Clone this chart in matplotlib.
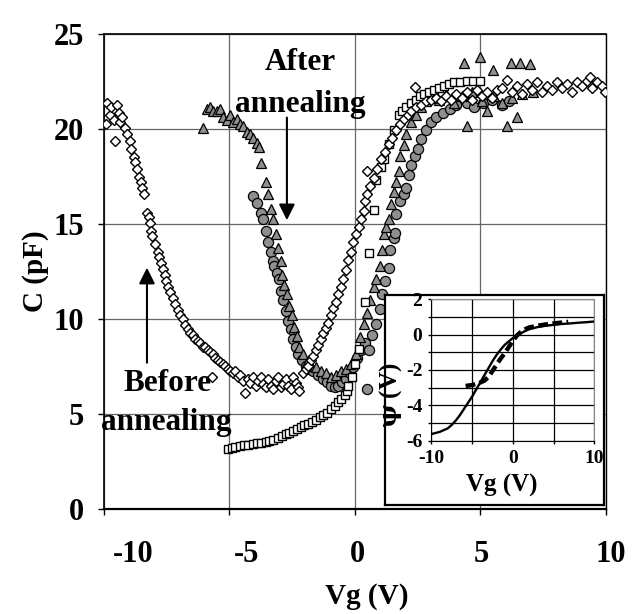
import matplotlib
matplotlib.use('Agg')
import matplotlib.pyplot as plt
from matplotlib.transforms import ScaledTranslation

plt.rcParams['font.family'] = ['Liberation Serif', 'DejaVu Serif']
plt.rcParams['font.weight'] = 'bold'
plt.rcParams['mathtext.fontset'] = 'dejavuserif'

# ---------------- data ----------------
x_ticks = [-10, -5, 0, 5, 10]
x_tick_labels = ['-10', '-5', '0', '5', '10']
y_ticks = [0, 5, 10, 15, 20, 25]
y_tick_labels = ['0', '5', '10', '15', '20', '25']

# open diamonds: before annealing
before_pts = [
    (-9.9, 20.25), (-9.85, 21.35), (-9.75, 20.75), (-9.7, 21.15), (-9.6, 20.45), (-9.55, 19.35),
    (-9.45, 21.25), (-9.4, 20.85), (-9.35, 20.35), (-9.25, 20.65), (-9.15, 20.05), (-9.05, 19.75),
    (-8.95, 19.35), (-8.9, 18.95), (-8.8, 18.55), (-8.75, 18.25), (-8.65, 17.9), (-8.6, 17.5),
    (-8.5, 17.2), (-8.45, 16.9), (-8.4, 16.6),
    (-8.25, 15.6), (-8.2, 15.35), (-8.15, 15.05), (-8.1, 14.65), (-8.05, 14.35), (-7.95, 13.95),
    (-7.85, 13.55), (-7.8, 13.25), (-7.7, 12.95), (-7.65, 12.65), (-7.55, 12.3), (-7.5, 12.0),
    (-7.45, 11.7), (-7.35, 11.4), (-7.25, 11.1), (-7.15, 10.8), (-7.05, 10.5), (-6.95, 10.2),
    (-6.85, 10.0), (-6.75, 9.7), (-6.65, 9.5), (-6.55, 9.25), (-6.45, 9.15), (-6.35, 8.95),
    (-6.25, 8.85), (-6.15, 8.75), (-6.05, 8.55), (-5.95, 8.55), (-5.85, 8.35), (-5.75, 8.25),
    (-5.65, 8.15), (-5.55, 7.95), (-5.45, 7.85), (-5.35, 7.75), (-5.25, 7.65), (-5.15, 7.55),
    (-5.05, 7.35), (-4.95, 7.25), (-4.85, 7.15), (-4.75, 7.25), (-4.65, 6.95), (-4.55, 7.05),
    (-4.45, 6.75), (-4.35, 6.1), (-4.25, 6.85), (-4.15, 6.65), (-4.05, 6.95), (-3.95, 6.5),
    (-3.85, 6.75), (-3.75, 6.95), (-3.65, 6.6), (-3.55, 6.4), (-3.45, 6.85), (-3.35, 6.5),
    (-3.25, 6.3), (-3.15, 6.75), (-3.05, 6.95), (-2.95, 6.4), (-2.85, 6.6), (-2.75, 6.85),
    (-2.65, 6.5), (-2.55, 6.3), (-2.45, 6.95), (-2.35, 6.65), (-2.25, 6.4), (-2.2, 6.2),
    (-5.7, 6.95),
    (-2.05, 7.15), (-1.95, 7.35), (-1.85, 7.55), (-1.75, 7.85), (-1.65, 8.05), (-1.55, 8.35),
    (-1.45, 8.65), (-1.35, 8.95), (-1.25, 9.25), (-1.15, 9.55), (-1.05, 9.8), (-0.95, 10.2),
    (-0.85, 10.6), (-0.75, 10.9), (-0.65, 11.3), (-0.55, 11.7), (-0.45, 12.1), (-0.35, 12.6),
    (-0.25, 13.1), (-0.15, 13.55), (-0.05, 14.05), (0.05, 14.45), (0.15, 14.85), (0.25, 15.25),
    (0.35, 15.7), (0.4, 16.2), (0.5, 16.6), (0.48, 17.8), (0.6, 17.0), (0.75, 17.4), (0.9, 17.9),
    (1.05, 18.4), (1.2, 18.8), (1.35, 19.2), (1.5, 19.55), (1.65, 19.95), (1.8, 20.25),
    (1.95, 20.55), (2.1, 20.75), (2.25, 20.95), (2.4, 22.2), (2.45, 21.15),
    (2.65, 21.25), (2.85, 21.45), (3.05, 21.55), (3.25, 21.65), (3.45, 21.45), (3.65, 21.75),
    (3.85, 21.55), (4.05, 21.85), (4.25, 21.65), (4.45, 21.95), (4.65, 21.55), (4.85, 22.05),
    (5.05, 21.75), (5.25, 21.95), (5.45, 21.65), (5.65, 22.05), (5.85, 22.15), (6.05, 22.6),
    (6.25, 21.95), (6.45, 22.25), (6.65, 21.85), (6.85, 22.35), (7.05, 22.05), (7.25, 22.45),
    (7.45, 21.95), (7.65, 22.25), (7.85, 22.05), (8.05, 22.45), (8.25, 22.15), (8.45, 22.35),
    (8.65, 21.95), (8.85, 22.45), (9.05, 22.25), (9.25, 22.55), (9.35, 22.75), (9.45, 22.15),
    (9.65, 22.45), (9.85, 22.25), (9.98, 21.95),
]

# grey triangles: after annealing
after_tri_pts = [
    (-6.05, 20.05), (-5.9, 21.05), (-5.75, 21.15), (-5.65, 20.95), (-5.5, 20.95), (-5.35, 21.05),
    (-5.25, 20.65), (-5.1, 20.45), (-4.95, 20.75), (-4.85, 20.35), (-4.7, 20.55), (-4.55, 20.25),
    (-4.45, 20.15), (-4.3, 19.85), (-4.15, 19.75), (-4.05, 19.55), (-3.9, 19.25), (-3.8, 19.05),
    (-3.75, 18.2), (-3.55, 17.2), (-3.45, 16.6), (-3.35, 15.8), (-3.25, 15.25), (-3.15, 14.45),
    (-3.05, 13.75), (-2.95, 13.05), (-2.9, 12.3), (-2.8, 11.8), (-2.7, 11.3), (-2.6, 10.7),
    (-2.5, 10.2), (-2.4, 9.6), (-2.3, 9.1), (-2.2, 8.55), (-2.05, 8.15), (-1.9, 7.75),
    (-1.75, 7.55), (-1.55, 7.45), (-1.35, 7.25), (-1.15, 7.15), (-0.95, 6.95), (-0.75, 7.05),
    (-0.55, 7.25), (-0.35, 7.35), (-0.15, 7.65), (0.05, 8.15), (0.2, 9.05), (0.35, 9.75),
    (0.5, 10.3), (0.6, 11.0), (0.75, 11.7), (0.85, 12.1), (1.0, 12.8), (1.1, 13.65),
    (1.15, 14.45), (1.25, 14.85), (1.35, 15.25), (1.45, 16.05), (1.55, 16.7), (1.65, 17.2),
    (1.75, 17.8), (1.8, 18.6), (1.95, 19.15), (2.05, 19.75), (2.25, 20.35), (2.45, 20.75),
    (2.65, 21.15), (2.85, 21.45), (3.05, 21.65), (3.35, 21.55), (3.65, 21.85), (3.95, 21.35),
    (4.25, 21.75), (4.33, 23.5), (4.46, 20.15), (4.65, 21.95), (5.0, 23.8), (5.05, 21.45),
    (5.25, 20.95), (5.52, 23.1), (5.55, 21.75), (5.85, 21.35), (6.05, 20.15), (6.2, 23.5),
    (6.25, 21.65), (6.45, 20.65), (6.58, 23.5), (6.65, 21.85), (6.98, 23.4), (7.1, 21.95),
]

# grey circles: after annealing
after_circ_pts = [
    (-4.05, 16.5), (-3.9, 16.1), (-3.75, 15.6), (-3.65, 15.25), (-3.55, 14.65), (-3.45, 14.05),
    (-3.35, 13.55), (-3.25, 13.05), (-3.2, 12.8), (-3.1, 12.4), (-3.0, 12.1), (-2.95, 11.5),
    (-2.85, 11.0), (-2.75, 10.4), (-2.65, 9.9), (-2.55, 9.45), (-2.45, 8.95), (-2.35, 8.55),
    (-2.25, 8.15), (-2.1, 7.85), (-1.95, 7.55), (-1.8, 7.35), (-1.65, 7.25), (-1.45, 7.05),
    (-1.25, 6.85), (-1.1, 6.7), (-0.95, 6.5), (-0.8, 6.4), (-0.65, 6.5), (-0.5, 6.7),
    (-0.35, 6.85), (-0.2, 7.15), (-0.05, 7.45), (0.1, 7.95), (0.25, 8.35), (0.4, 8.75),
    (0.48, 6.3), (0.55, 8.35), (0.7, 9.15), (0.85, 9.75), (1.0, 10.55), (1.1, 11.3),
    (1.2, 12.0), (1.35, 12.7), (1.4, 13.65), (1.55, 14.25), (1.6, 14.55), (1.65, 15.55),
    (1.8, 16.2), (1.95, 16.6), (2.05, 16.9), (2.15, 17.6), (2.25, 18.1), (2.4, 18.6),
    (2.5, 18.95), (2.65, 19.45), (2.85, 19.95), (3.05, 20.35), (3.25, 20.65), (3.5, 20.85),
    (3.8, 21.05), (4.05, 21.25), (4.45, 21.35), (4.75, 21.15), (5.1, 21.35), (5.45, 21.55),
    (5.85, 21.25), (6.15, 21.45),
]

# open squares
square_pts = [
    (-5.05, 3.15), (-4.9, 3.2), (-4.75, 3.25), (-4.55, 3.3), (-4.4, 3.35), (-4.25, 3.35),
    (-4.05, 3.4), (-3.9, 3.45), (-3.75, 3.5), (-3.55, 3.55), (-3.4, 3.6), (-3.25, 3.65),
    (-3.05, 3.75), (-2.9, 3.85), (-2.75, 3.95), (-2.6, 4.0), (-2.45, 4.1), (-2.3, 4.2),
    (-2.15, 4.3), (-2.0, 4.4), (-1.85, 4.5), (-1.7, 4.6), (-1.55, 4.7), (-1.4, 4.85),
    (-1.25, 4.95), (-1.1, 5.05), (-0.95, 5.25), (-0.8, 5.4), (-0.65, 5.65), (-0.55, 5.8),
    (-0.4, 6.0), (-0.3, 6.2), (-0.25, 6.45), (-0.1, 6.95), (0.0, 7.65), (0.15, 8.4),
    (0.4, 10.9), (0.55, 13.45), (0.75, 15.75), (0.85, 17.3), (1.05, 18.0), (1.15, 18.4),
    (1.35, 19.2), (1.55, 19.95), (1.75, 20.75), (1.9, 20.95), (2.05, 21.15), (2.25, 21.35),
    (2.45, 21.55), (2.6, 21.75), (2.75, 21.85), (2.95, 21.95), (3.15, 22.05), (3.35, 22.15),
    (3.55, 22.25), (3.75, 22.35), (3.95, 22.45), (4.2, 22.5), (4.45, 22.55), (4.7, 22.55),
    (5.0, 22.55),
]

# inset: surface potential psi vs Vg
inset_solid_vg = [-10, -9, -8, -7.5, -7, -6.5, -6, -5.5, -5, -4.5, -4, -3.5, -3, -2.5, -2,
                  -1.5, -1, -0.5, 0, 0.5, 1, 1.5, 2, 3, 4, 5, 6, 7, 8, 9, 10]
inset_solid_psi = [-5.62, -5.5, -5.3, -5.1, -4.85, -4.55, -4.2, -3.85, -3.5, -3.1, -2.7, -2.3,
                   -1.9, -1.5, -1.15, -0.85, -0.58, -0.38, -0.2, -0.05, 0.08, 0.2, 0.3, 0.42,
                   0.5, 0.55, 0.6, 0.63, 0.67, 0.7, 0.74]
inset_dash_vg = [-5.8, -5, -4.2, -3.5, -3, -2.5, -2, -1.5, -1, -0.5, 0, 0.5, 1, 1.5, 2, 3, 4,
                 5, 6, 6.8]
inset_dash_psi = [-2.9, -2.85, -2.75, -2.6, -2.4, -2.05, -1.7, -1.35, -1.05, -0.7, -0.35,
                  -0.05, 0.15, 0.3, 0.4, 0.5, 0.57, 0.63, 0.68, 0.72]
inset_x_ticks = [-10, -5, 0, 5, 10]
inset_x_labels = ['-10', '', '0', '', '10']
inset_y_ticks = [-6, -5, -4, -3, -2, -1, 0, 1, 2]
inset_y_labels = ['-6', '', '-4', '', '-2', '', '0', '', '2']

# ---------------- figure ----------------
fig = plt.figure(figsize=(6.35, 6.14), dpi=100)
ax = fig.add_axes([0.163, 0.171, 0.7913, 0.7736])
ax.set_xlim(-10, 10)
ax.set_ylim(0, 25)
ax.set_xticks(x_ticks)
ax.set_xticklabels(x_tick_labels)
ax.set_yticks(y_ticks)
ax.set_yticklabels(y_tick_labels)
ax.grid(True, color='#666666', lw=0.9)
ax.set_axisbelow(True)
for s in ['left', 'bottom', 'top', 'right']:
    ax.spines[s].set_color('black')
ax.spines['left'].set_linewidth(1.2)
ax.spines['bottom'].set_linewidth(1.6)
ax.spines['top'].set_linewidth(1.2)
ax.spines['right'].set_linewidth(1.0)
ax.tick_params(axis='both', direction='out', length=4.3, width=1.0, labelsize=22)
ax.tick_params(axis='x', pad=18)
ax.tick_params(axis='y', pad=10)

grey = '#8f8f8f'

def split(pts):
    return [p[0] for p in pts], [p[1] for p in pts]

cx, cy = split(after_circ_pts)
ax.plot(cx, cy, 'o', ms=7.3, mfc=grey, mec='black', mew=0.9, ls='none', zorder=3)
tx, ty = split(after_tri_pts)
ax.plot(tx, ty, '^', ms=7.2, mfc=grey, mec='black', mew=0.9, ls='none', zorder=3)
sx, sy = split(square_pts)
ax.plot(sx, sy, 's', ms=5.8, mfc='white', mec='black', mew=1.0, ls='none', zorder=4)
bx, by = split(before_pts)
ax.plot(bx, by, 'D', ms=4.6, mfc='white', mec='black', mew=1.0, ls='none', zorder=4)

ax.set_xlabel('Vg (V)', fontsize=21, fontweight='bold')
ax.set_ylabel('C (pF)', fontsize=21, fontweight='bold')
ax.xaxis.set_label_coords(0.524, -0.156)
ax.yaxis.set_label_coords(-0.108, 0.5)

# annotations
ax.text(-2.18, 23.5, 'After', ha='center', va='center', fontsize=22.5, fontweight='bold', zorder=6)
ax.text(-2.18, 21.3, 'annealing', ha='center', va='center', fontsize=22.5, fontweight='bold', zorder=6)
ax.annotate('', xy=(-2.70, 15.2), xytext=(-2.70, 20.6),
            arrowprops=dict(arrowstyle='-|>', color='black', lw=1.5, mutation_scale=24,
                            shrinkA=0, shrinkB=0), zorder=6)
ax.text(-7.47, 6.63, 'Before', ha='center', va='center', fontsize=22.5, fontweight='bold', zorder=6)
ax.text(-7.51, 4.53, 'annealing', ha='center', va='center', fontsize=22.5, fontweight='bold', zorder=6)
ax.annotate('', xy=(-8.27, 12.7), xytext=(-8.27, 7.7),
            arrowprops=dict(arrowstyle='-|>', color='black', lw=1.5, mutation_scale=24,
                            shrinkA=0, shrinkB=0), zorder=6)

# x tick label offsets (pixels, as in the original layout)
offsets_px = [29.5, 17, 3, 0.6, 5]
for lab, dx in zip(ax.get_xticklabels(), offsets_px):
    lab.set_transform(lab.get_transform() + ScaledTranslation(dx / 100.0, 0, fig.dpi_scale_trans))

# inset frame
frame = fig.add_axes([0.6063, 0.1775, 0.3449, 0.342], zorder=5)
frame.set_xticks([])
frame.set_yticks([])
frame.set_facecolor('white')
for s in frame.spines.values():
    s.set_linewidth(1.6)
    s.set_color('black')

ins = fig.add_axes([0.6794, 0.2821, 0.2565, 0.2306], zorder=6)
ins.set_xlim(-10, 10)
ins.set_ylim(-6, 2)
ins.set_xticks(inset_x_ticks)
ins.set_xticklabels(inset_x_labels)
ins.set_yticks(inset_y_ticks)
ins.set_yticklabels(inset_y_labels)
ins.grid(True, color='black', lw=0.9)
ins.set_axisbelow(True)
ins.tick_params(axis='both', direction='out', length=2.5, width=1.0, labelsize=14, pad=4)
ins.spines['left'].set_color('black')
ins.spines['bottom'].set_color('black')
ins.spines['top'].set_color('#888888')
ins.spines['right'].set_color('#888888')
ins.plot(inset_solid_vg, inset_solid_psi, color='black', lw=1.7, zorder=3)
ins.plot(inset_dash_vg, inset_dash_psi, color='black', lw=3.2, ls=(0, (2.2, 1.0)), zorder=3)
ins.set_xlabel('Vg (V)', fontsize=18, fontweight='bold')
ins.set_ylabel(r'$\mathbf{\psi}$ (V)', fontsize=18, fontweight='bold')
ins.xaxis.set_label_coords(0.43, -0.235)
ins.yaxis.set_label_coords(-0.168, 0.32)

fig.savefig('out.png', dpi=100)
